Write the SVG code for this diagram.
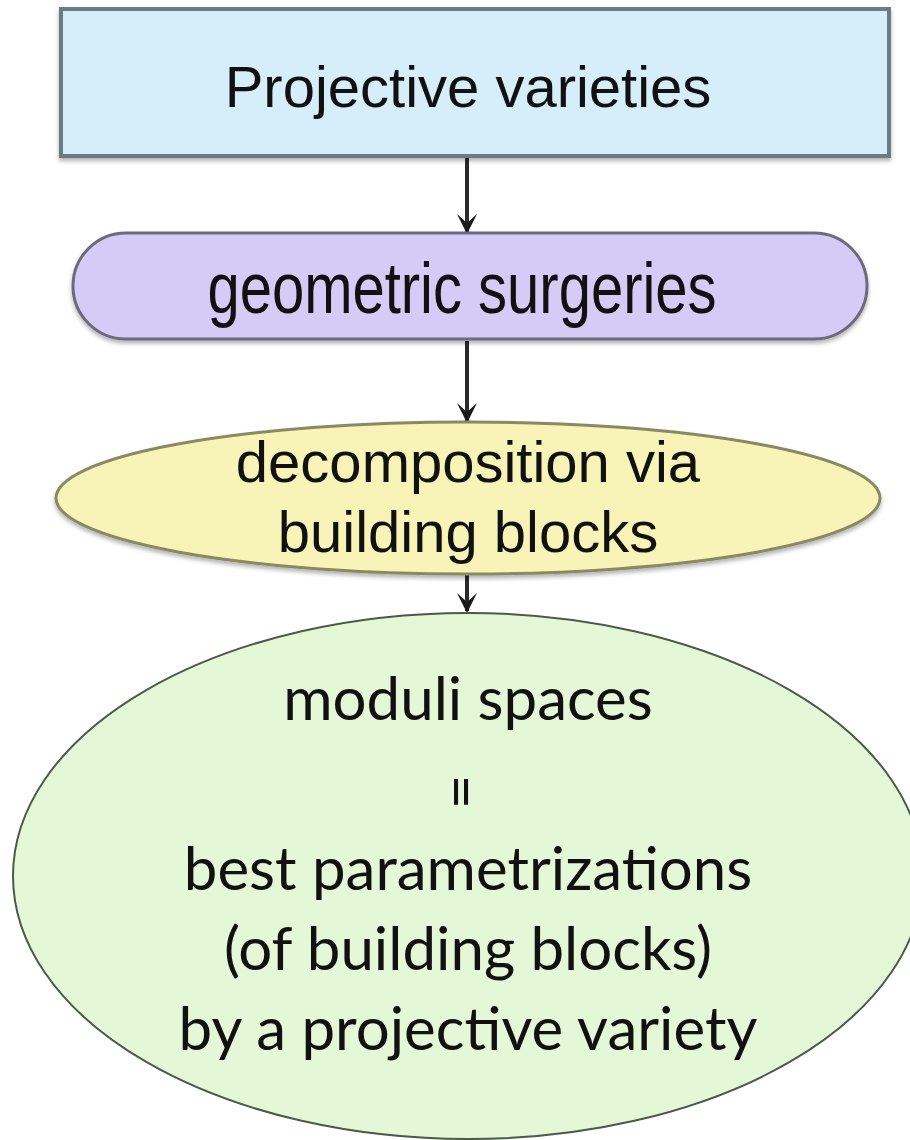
<svg xmlns="http://www.w3.org/2000/svg" width="910" height="1140" viewBox="0 0 910 1140">
  <defs>
    <style>
      .lbl { font-family: "Liberation Sans", Arial, sans-serif; font-size: 58px; fill: #111; text-anchor: middle; }
      .cm { font-family: "Lato", "Liberation Sans", sans-serif; font-size: 60px; fill: #111; text-anchor: middle; }
      .edge { stroke: #2a2a2a; stroke-width: 4; fill: none; }
    </style>
    <filter id="soft" x="-5%" y="-10%" width="110%" height="125%">
      <feDropShadow dx="0" dy="3" stdDeviation="2" flood-color="#000" flood-opacity="0.3"/>
    </filter>
    <marker id="arrow" viewBox="0 -11 20 22" refX="18" refY="0" markerWidth="20" markerHeight="22" markerUnits="userSpaceOnUse" orient="auto">
      <path d="M0,-10 L20,0 L0,10 L9,0 Z" fill="#1a1a1a"/>
    </marker>
  </defs>

  <rect width="910" height="1140" fill="#ffffff"/>

  <g id="connectors">
    <line class="edge" x1="467" y1="158" x2="467" y2="232" marker-end="url(#arrow)"/>
    <line class="edge" x1="467" y1="341" x2="467" y2="421" marker-end="url(#arrow)"/>
    <line class="edge" x1="467" y1="575" x2="467" y2="611" marker-end="url(#arrow)"/>
  </g>

  <g id="projective-varieties">
    <rect x="61" y="9" width="828" height="147" fill="#d5eef9" stroke="#6b7b82" stroke-width="4" filter="url(#soft)"/>
    <text class="lbl" x="468" y="107">Projective varieties</text>
  </g>

  <g id="geometric-surgeries">
    <rect x="73" y="233" width="794" height="106" rx="53" ry="53" fill="#d4ccf6" stroke="#6c6a7e" stroke-width="3" filter="url(#soft)"/>
    <text class="lbl" transform="translate(462,313) scale(1,1.25)">geometric surgeries</text>
  </g>

  <g id="decomposition">
    <ellipse cx="468" cy="498" rx="412" ry="76" fill="#f8f4b8" stroke="#8a8a62" stroke-width="3" filter="url(#soft)"/>
    <text class="lbl" x="468" y="482" font-size="61">decomposition via</text>
    <text class="lbl" x="468" y="552" font-size="61">building blocks</text>
  </g>

  <g id="moduli-spaces">
    <ellipse cx="468" cy="876" rx="455" ry="263" fill="#e4f8d8" stroke="#4a5a48" stroke-width="2"/>
    <text class="cm" x="468" y="720">moduli spaces</text>
    <text class="cm" transform="translate(461,792) rotate(90)" x="0" y="20">=</text>
    <text class="cm" x="468" y="890">best parametrizations</text>
    <text class="cm" x="468" y="970">(of building blocks)</text>
    <text class="cm" x="468" y="1050">by a projective variety</text>
  </g>
</svg>
